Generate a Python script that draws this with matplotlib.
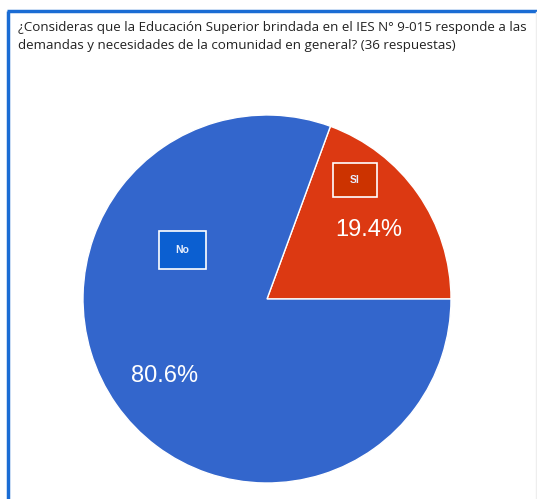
import matplotlib.pyplot as plt
from matplotlib.patches import Rectangle

# Daten
labels = ["SI", "No"]
shares = [19.4, 80.6]
colors = ["#dc3912", "#3366cc"]
box_colors = ["#cc3300", "#0b5fd1"]

title = ("¿Consideras que la Educación Superior brindada en el IES N° 9-015 responde a las\n"
         "demandas y necesidades de la comunidad en general? (36 respuestas)")

W, H = 537, 499
fig = plt.figure(figsize=(W / 100, H / 100), dpi=100)
ax = fig.add_axes([0, 0, 1, 1])

# Kreisdiagramm
cx, cy, r = 267, H - 299, 184
ax.pie(shares, colors=colors, startangle=0, counterclock=True, radius=r,
       center=(cx, cy), frame=True,
       wedgeprops=dict(edgecolor="white", linewidth=1))
ax.set_xlim(0, W)
ax.set_ylim(0, H)
ax.set_aspect("equal")
ax.axis("off")

# Rahmen (blau oben und links)
ax.plot([7, W], [H - 11, H - 11], color="#1a6cd4", lw=2.5, solid_capstyle="butt")
ax.plot([7.5, 7.5], [0, H - 11], color="#1a6cd4", lw=2.5, solid_capstyle="butt")
ax.plot([535.5, 535.5], [0, H - 12], color="#eeeeee", lw=1)

ax.text(18, H - 21, title, ha="left", va="top", fontsize=9.6,
        family="Open Sans", color="#222222", linespacing=1.45)

# Prozentwerte
ax.text(369, H - 230, f"{shares[0]}%", ha="center", va="center",
        fontsize=17, color="white", family="Liberation Sans")
ax.text(165, H - 376, f"{shares[1]}%", ha="center", va="center",
        fontsize=17, color="white", family="Liberation Sans")

# Legendenkaesten im Kreis
for (x0, y0, x1, y1), lab, bc in [((333, 163, 377, 197), labels[0], box_colors[0]),
                                  ((159, 231, 206, 269), labels[1], box_colors[1])]:
    ax.add_patch(Rectangle((x0, H - y1), x1 - x0, y1 - y0, facecolor=bc,
                           edgecolor="white", lw=1.2))
    ax.text((x0 + x1) / 2, H - (y0 + y1) / 2, lab, ha="center", va="center",
            fontsize=7.5, color="#e8eefc", fontweight="bold", family="Liberation Sans")

fig.savefig("out.png", dpi=100)
